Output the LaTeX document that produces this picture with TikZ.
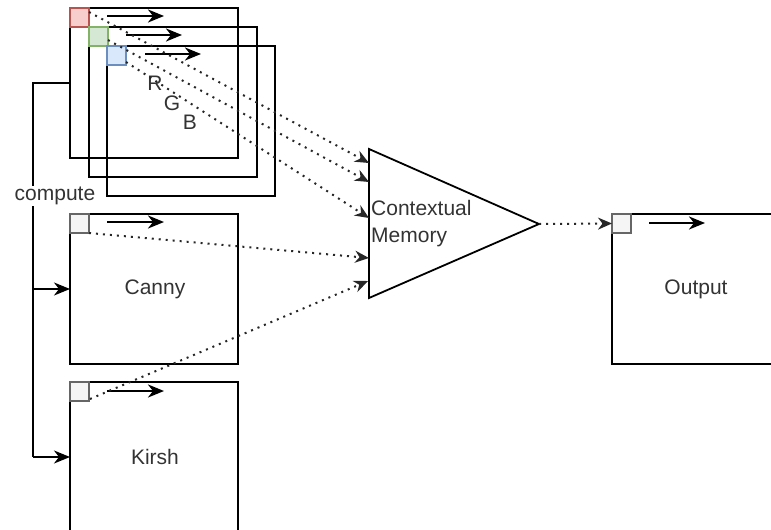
\documentclass[tikz,border=0pt]{standalone}
\usepackage{fontspec}
\setmainfont{Liberation Sans}
\usetikzlibrary{arrows.meta}
\definecolor{rfill}{HTML}{F8CECC}\definecolor{rline}{HTML}{B85450}
\definecolor{gfill}{HTML}{D5E8D4}\definecolor{gline}{HTML}{82B366}
\definecolor{bfill}{HTML}{DAE8FC}\definecolor{bline}{HTML}{6C8EBF}
\definecolor{sfill}{HTML}{F5F5F5}\definecolor{sline}{HTML}{666666}
\definecolor{txt}{HTML}{333333}
\tikzset{
  myhead/.tip={Stealth[length=16pt,width=13pt,inset=5pt]},
  dothead/.tip={Stealth[length=14pt,width=12pt,inset=4.5pt]}}
\begin{document}
\begin{tikzpicture}[x=1pt,y=-1pt,
  frame/.style={draw=black,line width=1.8pt,minimum width=168pt,minimum height=150pt,inner sep=0pt,outer sep=0pt,anchor=north west},
  sq/.style={line width=1.3pt,minimum width=19pt,minimum height=19pt,inner sep=0pt,outer sep=0pt,anchor=north west},
  lbl/.style={text=txt,font=\fontsize{21}{27}\selectfont,inner sep=1pt},
  inarr/.style={-myhead,line width=2.4pt},
  solidarr/.style={-myhead,line width=1.8pt},
  dots/.style={-dothead,line width=2pt,black!85,dash pattern=on 2pt off 5pt}]
\useasboundingbox (0,0) rectangle (771,530);
\clip (0,0) rectangle (771,530);
% RGB stack
\node[frame] (rbox) at (70,8) {};
\node[frame] (gbox) at (89,27) {};
\node[frame] (bbox) at (107,46) {};
\node[sq,fill=rfill,draw=rline] (rsq) at (70,8) {};
\node[sq,fill=gfill,draw=gline] (gsq) at (89,27) {};
\node[sq,fill=bfill,draw=bline] (bsq) at (107,46) {};
\coordinate (ra1) at (107,16); \coordinate (ra2) at (164,16);
\coordinate (ga1) at (126,35); \coordinate (ga2) at (182,35);
\coordinate (ba1) at (145,54); \coordinate (ba2) at (201,54);
\draw[inarr] (ra1) -- (ra2);
\draw[inarr] (ga1) -- (ga2);
\draw[inarr] (ba1) -- (ba2);
\node[lbl] (rl) at (155,83) {R};
\node[lbl] (gl) at (172,103) {G};
\node[lbl] (bl) at (190,122) {B};
% Canny & Kirsh
\node[frame] (canny) at (70,214) {};
\node[sq,fill=sfill,draw=sline] (csq) at (70,214) {};
\coordinate (ca1) at (107,222); \coordinate (ca2) at (164,222);
\draw[inarr] (ca1) -- (ca2);
\node[lbl] (ct) at (155,289) {Canny};
\node[frame] (kirsh) at (70,382) {};
\node[sq,fill=sfill,draw=sline] (ksq) at (70,382) {};
\coordinate (ka1) at (107,391); \coordinate (ka2) at (164,391);
\draw[inarr] (ka1) -- (ka2);
\node[lbl] (kt) at (155,457) {Kirsh};
% compute connector
\coordinate (cs) at (70,83);
\coordinate (cc) at (33,83);
\coordinate (cj) at (33,289);
\coordinate (ck) at (33,457);
\draw[line width=1.8pt] (cs) -- (cc) -- (ck);
\draw[solidarr] (cj) -- (canny.west);
\draw[solidarr] (ck) -- (kirsh.west);
\node[lbl,fill=white] (comp) at (55,196) {compute};
% Contextual memory triangle
\coordinate (t1) at (369,149);
\coordinate (t2) at (369,298);
\coordinate (ta) at (539,224);
\draw[line width=1.8pt,line join=miter] (t1) -- (ta) -- (t2) -- cycle;
\node[lbl,align=left,anchor=west] (cm) at (370,224) {Contextual\\Memory};
\coordinate (i1) at (369,163);
\coordinate (i2) at (369,182);
\coordinate (i3) at (369,218);
\coordinate (i4) at (369,258);
\coordinate (i5) at (368,281);
\coordinate (rs) at (89,12);
\coordinate (gs) at (108,40);
\coordinate (bs) at (126,62);
\coordinate (cs2) at (89,233);
\coordinate (ks) at (90,399);
\draw[dots] (rs) -- (i1);
\draw[dots] (gs) -- (i2);
\draw[dots] (bs) -- (i3);
\draw[dots] (cs2) -- (i4);
\draw[dots] (ks) -- (i5);
% Output
\node[frame] (out) at (612,214) {};
\node[sq,fill=sfill,draw=sline] (osq) at (612,214) {};
\coordinate (oa1) at (649,223); \coordinate (oa2) at (705,223);
\draw[inarr] (oa1) -- (oa2);
\node[lbl] (ot) at (696,289) {Output};
\draw[dots] (ta) -- (osq.west);
\end{tikzpicture}
\end{document}
